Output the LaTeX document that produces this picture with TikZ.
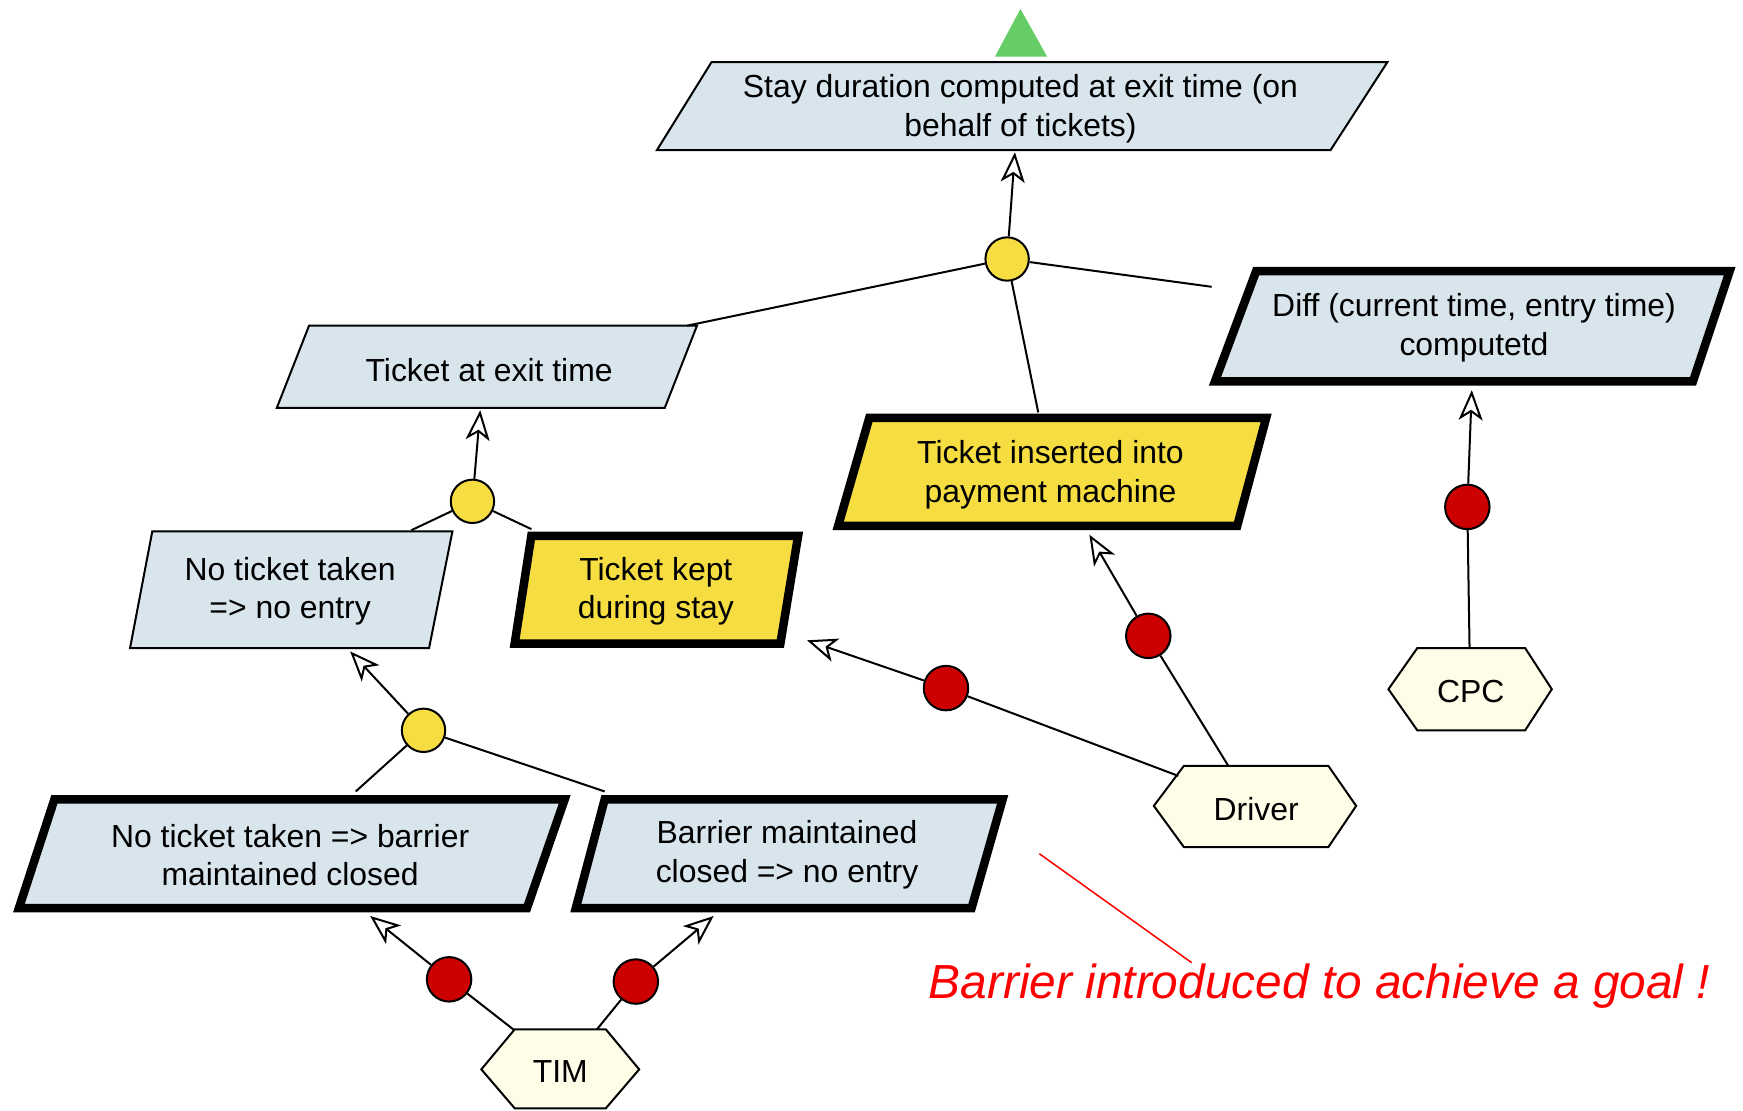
\documentclass[tikz,border=0pt]{standalone}
\usepackage{fontspec}
\setmainfont{Liberation Sans}
\usetikzlibrary{arrows.meta}

\definecolor{goalblue}{RGB}{216,229,237}
\definecolor{expyellow}{RGB}{245,221,66}
\definecolor{agentfill}{RGB}{255,253,232}
\definecolor{dotred}{RGB}{204,0,0}
\definecolor{rootgreen}{RGB}{102,204,102}
\definecolor{notered}{RGB}{255,0,0}

\tikzset{
  thinbox/.style={draw=black, line width=2pt, line join=miter, fill=goalblue},
  boldbox/.style={draw=black, line width=8.5pt, line join=miter, fill=goalblue},
  boldyellow/.style={boldbox, fill=expyellow},
  agentbox/.style={draw=black, line width=2pt, line join=miter, fill=agentfill},
  lbl/.style={align=center, inner sep=0pt, font=\fontsize{31.9pt}{38.4pt}\selectfont},
  andgate/.style={circle, draw=black, line width=2pt, fill=expyellow, minimum size=39pt*1.1116, inner sep=0pt},
  respdot/.style={circle, draw=black, line width=2pt, fill=dotred, minimum size=40pt*1.1116, inner sep=0pt},
  link/.style={draw=black, line width=2pt},
  refine/.style={link, -{Stealth[open, fill=white, length=30pt, width=24pt, inset=8pt]}},
  note/.style={font=\fontsize{47.8pt}{56pt}\selectfont\itshape, text=notered, inner sep=0pt}
}

\begin{document}
\begin{tikzpicture}[x=1.1116pt, y=-1.1116pt]
\useasboundingbox (0,0) rectangle (1568,999);

% ---- connector end points on shape borders ----
\coordinate (goalIn)   at (913,137);
\coordinate (exitTop)  at (618,293);
\coordinate (diffEnd)  at (1090,258);
\coordinate (insTop)   at (934,371);
\coordinate (exitIn)   at (432,369);
\coordinate (noTop)    at (370,477);
\coordinate (keptTop)  at (478,476);
\coordinate (diffIn)   at (1324,351);
\coordinate (cpcTop)   at (1322,583);
\coordinate (insIn)    at (980,481);
\coordinate (drvTop)   at (1105,689);
\coordinate (keptIn)   at (726,576);
\coordinate (drvLeft)  at (1060,698);
\coordinate (noIn)     at (315,586);
\coordinate (barTopL)  at (320,712);
\coordinate (barTopR)  at (544,712);
\coordinate (barLIn)   at (333,824);
\coordinate (barRIn)   at (642,824);
\coordinate (timTopL)  at (463,927);
\coordinate (timTopR)  at (537,926);
\coordinate (noteFrom) at (935,768);
\coordinate (noteTo)   at (1072,866);

% ---- root marker ----
\fill[rootgreen] (895,51) -- (918,8) -- (942,51) -- cycle;

% ---- goals and expectations ----
\draw[thinbox] (640,56) -- (1248,56) -- (1197,135) -- (591,135) -- cycle;
\node[lbl] (stay) at (918,98) {Stay duration computed at exit time (on\\behalf of tickets)};

\draw[thinbox] (278,293) -- (627,293) -- (598,367) -- (249,367) -- cycle;
\node[lbl] (exit) at (440,333) {Ticket at exit time};

\draw[thinbox] (137,478) -- (407,478) -- (386,583) -- (117,583) -- cycle;
\node[lbl] (noentry) at (261,532) {No ticket taken\\=> no entry};

\draw[boldyellow] (478,482) -- (718,482) -- (702,579) -- (463,579) -- cycle;
\node[lbl] (kept) at (590,532) {Ticket kept\\during stay};

\draw[boldyellow] (782,376) -- (1139,376) -- (1113,473) -- (754,473) -- cycle;
\node[lbl] (inserted) at (945,427) {Ticket inserted into\\payment machine};

\draw[boldbox] (1130,244) -- (1556,244) -- (1523,343) -- (1093,343) -- cycle;
\node[lbl] (diff) at (1326,295) {Diff (current time, entry time)\\computetd};

\draw[boldbox] (49,719) -- (508,719) -- (474,817) -- (17,817) -- cycle;
\node[lbl] (barclosed) at (261,769) {No ticket taken => barrier\\maintained closed};

\draw[boldbox] (544,719) -- (902,719) -- (874,817) -- (518,817) -- cycle;
\node[lbl] (noentry2) at (708,769) {Barrier maintained\\closed => no entry};

% ---- agents ----
\draw[agentbox] (1249,620) -- (1275,583) -- (1372,583) -- (1396,620) -- (1372,657) -- (1275,657) -- cycle;
\node[lbl] (cpc) at (1323,622) {CPC};

\draw[agentbox] (1038,725) -- (1065,689) -- (1195,689) -- (1220,725) -- (1195,762) -- (1065,762) -- cycle;
\node[lbl] (driver) at (1130,728) {Driver};

\draw[agentbox] (433,962) -- (463,926) -- (545,926) -- (575,962) -- (545,997) -- (463,997) -- cycle;
\node[lbl] (tim) at (504,964) {TIM};

% ---- refinement gates ----
\node[andgate] (g1) at (906,233) {};
\node[andgate] (g2) at (425,451) {};
\node[andgate] (g3) at (381,657) {};

% ---- responsibility links ----
\node[respdot] (r1) at (1033,572) {};
\node[respdot] (r2) at (851,619) {};
\node[respdot] (r3) at (404,881) {};
\node[respdot] (r4) at (572,883) {};
\node[respdot] (r5) at (1320,456) {};

% ---- connectors ----
\draw[refine] (g1) -- (goalIn);
\draw[link] (g1) -- (exitTop);
\draw[link] (g1) -- (diffEnd);
\draw[link] (g1) -- (insTop);

\draw[refine] (g2) -- (exitIn);
\draw[link] (g2) -- (noTop);
\draw[link] (g2) -- (keptTop);

\draw[refine] (g3) -- (noIn);
\draw[link] (g3) -- (barTopL);
\draw[link] (g3) -- (barTopR);

\draw[refine] (r5) -- (diffIn);
\draw[link] (r5) -- (cpcTop);

\draw[refine] (r1) -- (insIn);
\draw[link] (r1) -- (drvTop);

\draw[refine] (r2) -- (keptIn);
\draw[link] (r2) -- (drvLeft);

\draw[refine] (r3) -- (barLIn);
\draw[link] (r3) -- (timTopL);

\draw[refine] (r4) -- (barRIn);
\draw[link] (r4) -- (timTopR);

% ---- annotation ----
\draw[notered, line width=1.5pt] (noteFrom) -- (noteTo);
\node[note] (remark) at (1187,887) {Barrier introduced to achieve a goal !};

\end{tikzpicture}
\end{document}
